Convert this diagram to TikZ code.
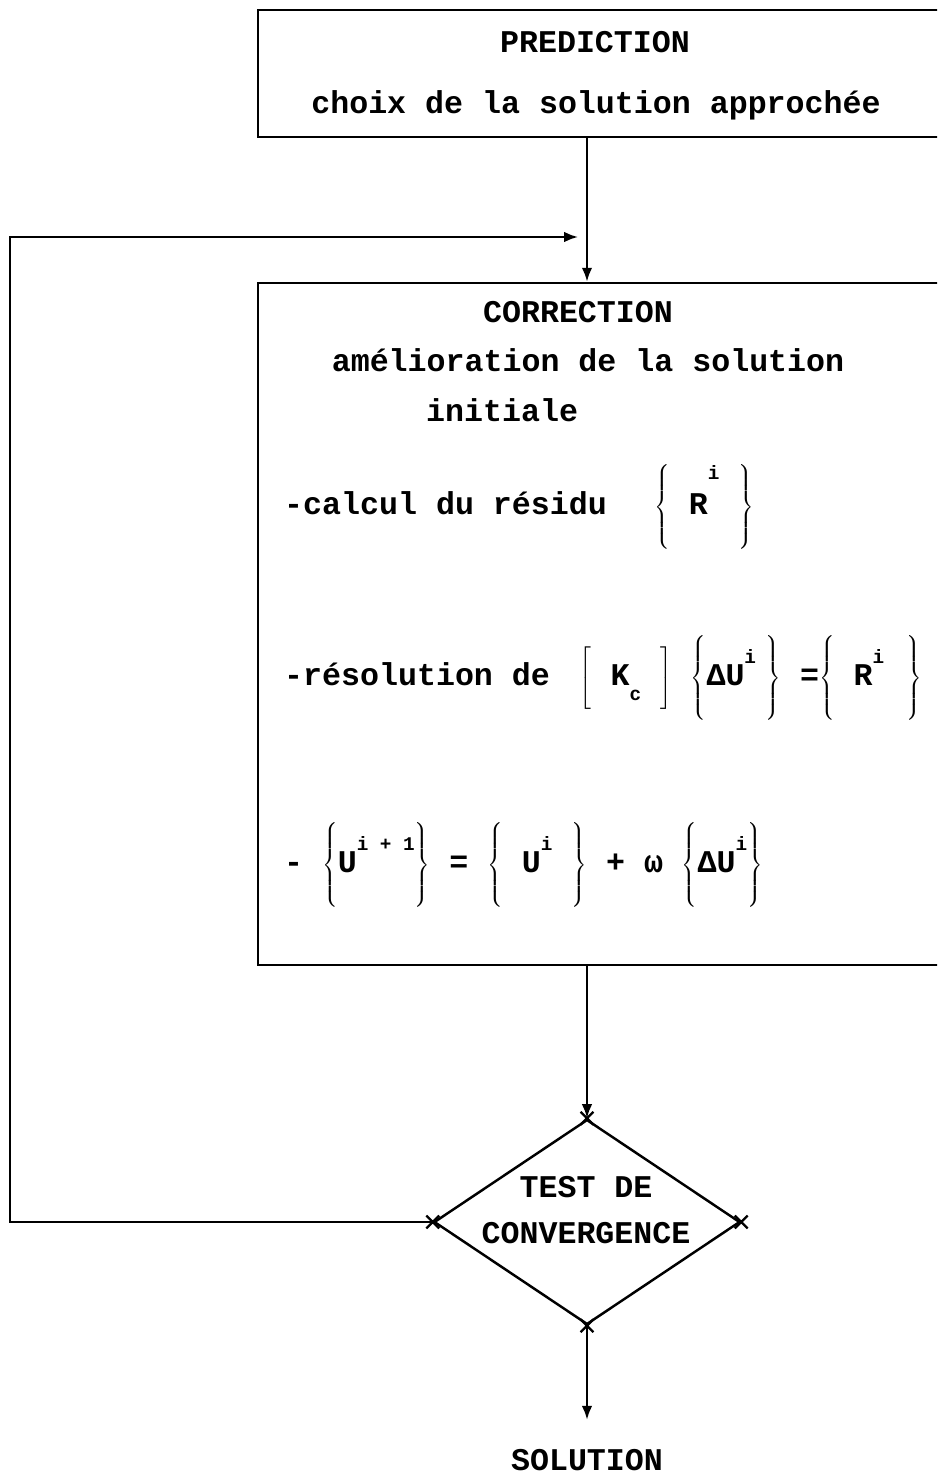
\documentclass[tikz,border=0pt]{standalone}
\usepackage{fontspec}
\setmainfont{Liberation Mono}
\usetikzlibrary{arrows.meta, positioning, shapes.geometric, shapes.misc}
\newcommand\up[1]{\raisebox{1.3ex}{\fontsize{11}{11}\selectfont #1}}
\newcommand\haut[1]{\raisebox{2.1ex}{\fontsize{11}{11}\selectfont #1}}
\newcommand\dn[1]{\raisebox{-0.9ex}{\fontsize{11}{11}\selectfont #1}}
\newcommand\acc[1]{$\left\{\rule[-18pt]{0pt}{46pt}\mbox{#1}\right\}$}
\newcommand\cro[1]{$\left[\rule[-12pt]{0pt}{34pt}\mbox{#1}\right]$}
\tikzset{
  every picture/.style={line width=1.4pt},
  bloc/.style={draw, rectangle, inner sep=0pt},
  losange/.style={draw, diamond, inner sep=0pt},
  txt/.style={font=\bfseries\fontsize{18}{26}\selectfont, inner sep=0pt},
  arr/.style={-{Latex[length=8pt, width=6pt]}},
  croix/.style={cross out, draw, minimum size=6pt, inner sep=0pt, line width=1.3pt},
}

\begin{document}
\begin{tikzpicture}[x=0.02cm, y=-0.02cm]
  \path[fill=white] (0,0) rectangle (937,1480);
  \clip (0,0) rectangle (937,1480);
  % prediction
  \node[bloc, minimum width=14.44cm, minimum height=2.54cm] (pred) at (619,73.5) {};
  \node[txt] (predT) at (595,42) {PREDICTION};
  \node[txt] (predS) at (596,105) {choix de la solution approchée};
  % correction
  \node[bloc, minimum width=14.44cm, minimum height=13.64cm] (corr) at (619,624) {};
  \node[txt] (corrT) at (578,312) {CORRECTION};
  \node[txt] (corrS) at (588,360) {amélioration de la solution};
  \node[txt, anchor=west] (corrS2) at (425,410) {initiale};
  \node[txt, anchor=west] (resid) at (283,507) {-calcul du résidu\hspace{1.5em}\acc{ R\haut{i} }};
  \node[txt, anchor=west] (resol) at (283,678) {-résolution de\hspace{0.95em}\cro{ K\dn{c} } \acc{ΔU\up{i}\hspace{0.3em}} =\acc{ R\up{i}\hspace{0.7em}}};
  \node[txt, anchor=west] (maj) at (283,865) {- \acc{U\up{i + 1}} = \acc{ U\up{i} } + ω \acc{ΔU\up{i}}};
  % test
  \node[losange, minimum width=6.12cm, minimum height=4.1cm] (test) at (587,1222) {};
  \node[txt, align=center] (testT) at (586,1210) {TEST DE\\CONVERGENCE};
  \foreach \a in {north,south,east,west}
    \node[croix] at (test.\a) {};
  \node[txt] (sol) at (587,1460) {SOLUTION};
  \coordinate (retour) at (10,237);
  % liaisons
  \draw[arr] (pred.south -| test.north) -- (corr.north -| test.north);
  \draw[arr] (corr.south -| test.north) -- (test.north);
  \draw[arr, shorten >=16pt] (test.south) -- (sol.north);
  \draw[arr, shorten >=5pt] (test.west) -| (retour) -- (retour -| test.north);
\end{tikzpicture}
\end{document}
